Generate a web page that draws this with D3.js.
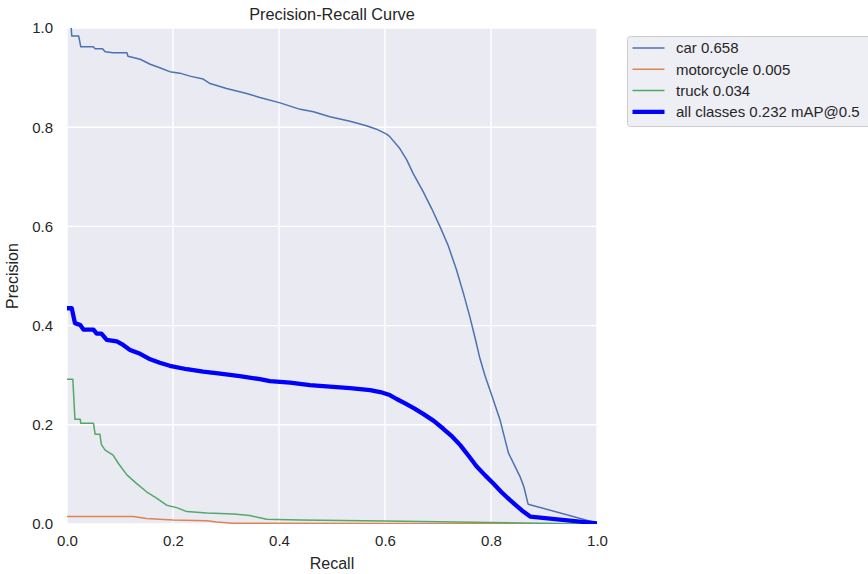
<!DOCTYPE html>
<html>
<head>
<meta charset="utf-8">
<script src="https://cdn.jsdelivr.net/npm/d3@7"></script>
<style>
  body { margin: 0; background: #fff; }
  svg { display: block; font-family: "Liberation Sans", Arial, sans-serif; }
</style>
</head>
<body>
<svg id="graph"></svg>
<script>
// [recall, precision] points
const carCurve = [
  [0.008, 1.0], [0.009, 0.984], [0.022, 0.984], [0.026, 0.962], [0.050, 0.962],
  [0.053, 0.958], [0.067, 0.958], [0.072, 0.952], [0.087, 0.950], [0.113, 0.950],
  [0.115, 0.943], [0.138, 0.937], [0.157, 0.927], [0.175, 0.920], [0.194, 0.912],
  [0.213, 0.909], [0.232, 0.903], [0.257, 0.897], [0.270, 0.888], [0.301, 0.878],
  [0.339, 0.868], [0.364, 0.860], [0.402, 0.849], [0.440, 0.836], [0.465, 0.831],
  [0.496, 0.821], [0.534, 0.812], [0.565, 0.803], [0.584, 0.796], [0.603, 0.786],
  [0.609, 0.781], [0.628, 0.757], [0.641, 0.734], [0.653, 0.707], [0.672, 0.670],
  [0.688, 0.636], [0.704, 0.599], [0.719, 0.562], [0.735, 0.512], [0.748, 0.465],
  [0.760, 0.418], [0.770, 0.375], [0.779, 0.334], [0.789, 0.298], [0.798, 0.270],
  [0.817, 0.210], [0.833, 0.143], [0.855, 0.095], [0.862, 0.075], [0.870, 0.040],
  [0.996, 0.003], [1.0, 0.0]
];
const motorcycleCurve = [
  [0.0, 0.015], [0.125, 0.015], [0.150, 0.011], [0.200, 0.008], [0.264, 0.0066],
  [0.282, 0.004], [0.314, 0.0014], [1.0, 0.0]
];
const truckCurve = [
  [0.0, 0.292], [0.011, 0.292], [0.015, 0.211], [0.025, 0.211], [0.026, 0.203],
  [0.050, 0.203], [0.053, 0.181], [0.062, 0.181], [0.065, 0.160], [0.072, 0.149],
  [0.087, 0.139], [0.097, 0.122], [0.113, 0.099], [0.131, 0.082], [0.150, 0.065],
  [0.169, 0.052], [0.188, 0.038], [0.207, 0.033], [0.226, 0.025], [0.264, 0.022],
  [0.314, 0.020], [0.345, 0.017], [0.377, 0.0095], [0.440, 0.008], [0.600, 0.006],
  [0.800, 0.003], [1.0, 0.0]
];
const allCurve = [
  [0.0, 0.435], [0.009, 0.435], [0.015, 0.405], [0.025, 0.401], [0.031, 0.392],
  [0.050, 0.392], [0.056, 0.384], [0.065, 0.384], [0.075, 0.371], [0.094, 0.368],
  [0.106, 0.361], [0.119, 0.351], [0.138, 0.343], [0.157, 0.332], [0.175, 0.325],
  [0.194, 0.319], [0.226, 0.312], [0.257, 0.307], [0.289, 0.303], [0.326, 0.298],
  [0.364, 0.292], [0.383, 0.288], [0.421, 0.285], [0.458, 0.280], [0.496, 0.277],
  [0.534, 0.274], [0.572, 0.270], [0.591, 0.266], [0.609, 0.260], [0.622, 0.252],
  [0.638, 0.243], [0.655, 0.233], [0.672, 0.222], [0.692, 0.208], [0.710, 0.192],
  [0.727, 0.176], [0.742, 0.159], [0.758, 0.137], [0.773, 0.116], [0.789, 0.098],
  [0.804, 0.082], [0.820, 0.064], [0.836, 0.048], [0.850, 0.035], [0.861, 0.025],
  [0.874, 0.015], [1.0, 0.0014]
];

const seriesNames = ["car 0.658", "motorcycle 0.005", "truck 0.034", "all classes 0.232 mAP@0.5"];
const ticks = [0, 0.2, 0.4, 0.6, 0.8, 1.0];

var svgWidth = 868,
    svgHeight = 574,
    margin = { top: 28, right: 271, bottom: 50, left: 67 },
    width = svgWidth - margin.left - margin.right,
    height = svgHeight - margin.top - margin.bottom;

const series = [
  { name: seriesNames[0], data: carCurve, color: "#4C72B0", lw: 1.5 },
  { name: seriesNames[1], data: motorcycleCurve, color: "#DD8452", lw: 1.5 },
  { name: seriesNames[2], data: truckCurve, color: "#55A868", lw: 1.5 },
  { name: seriesNames[3], data: allCurve, color: "#0000ff", lw: 4.3 }
];

const svg = d3.select("svg#graph")
  .attr("width", svgWidth)
  .attr("height", svgHeight);

const x = d3.scaleLinear().domain([0, 1]).range([0, width]);
const y = d3.scaleLinear().domain([0, 1]).range([height, 0]);

const g = svg.append("g")
  .attr("transform", "translate(" + [margin.left, margin.top] + ")");

g.append("rect")
  .attr("width", width)
  .attr("height", height)
  .attr("fill", "#EAEAF2");

// grid
g.append("g").selectAll("line.gx")
  .data(ticks).enter().append("line")
  .attr("x1", d => x(d)).attr("x2", d => x(d))
  .attr("y1", 0).attr("y2", height)
  .attr("stroke", "#fff").attr("stroke-width", 1.4);
g.append("g").selectAll("line.gy")
  .data(ticks).enter().append("line")
  .attr("x1", 0).attr("x2", width)
  .attr("y1", d => y(d)).attr("y2", d => y(d))
  .attr("stroke", "#fff").attr("stroke-width", 1.4);

// axes (no domain or tick marks, seaborn style)
const xAxis = g.append("g")
  .attr("transform", "translate(0," + height + ")")
  .call(d3.axisBottom(x).tickValues(ticks).tickFormat(d3.format(".1f")).tickSize(0).tickPadding(11));
const yAxis = g.append("g")
  .call(d3.axisLeft(y).tickValues(ticks).tickFormat(d3.format(".1f")).tickSize(0).tickPadding(14));
[xAxis, yAxis].forEach(a => {
  a.select(".domain").remove();
  a.selectAll("text")
    .attr("font-family", "Liberation Sans, Arial, sans-serif")
    .attr("font-size", 15)
    .attr("fill", "#262626");
});

// clip curves to the plot area
svg.append("defs").append("clipPath").attr("id", "plotClip")
  .append("rect").attr("width", width).attr("height", height);

const line = d3.line()
  .x(d => x(d[0]))
  .y(d => y(d[1]));

g.append("g").attr("clip-path", "url(#plotClip)")
  .selectAll("path.curve")
  .data(series).enter().append("path")
  .attr("class", "curve")
  .attr("d", d => line(d.data))
  .attr("fill", "none")
  .attr("stroke", d => d.color)
  .attr("stroke-width", d => d.lw)
  .attr("stroke-linejoin", "round")
  .attr("stroke-linecap", "butt");

// titles
g.append("text")
  .attr("x", width / 2).attr("y", -8)
  .attr("text-anchor", "middle")
  .attr("font-size", 16.3).attr("fill", "#262626")
  .text("Precision-Recall Curve");
g.append("text")
  .attr("x", width / 2).attr("y", height + 45)
  .attr("text-anchor", "middle")
  .attr("font-size", 16).attr("fill", "#262626")
  .text("Recall");
g.append("text")
  .attr("transform", "translate(" + [-49, height / 2] + ") rotate(-90)")
  .attr("text-anchor", "middle")
  .attr("font-size", 16).attr("fill", "#262626")
  .text("Precision");

// legend
const legend = svg.append("g")
  .attr("transform", "translate(" + [627.5, 36.5] + ")");
legend.append("rect")
  .attr("width", 262).attr("height", 90)
  .attr("rx", 3)
  .attr("fill", "#EAEAF2").attr("fill-opacity", 0.8)
  .attr("stroke", "#cccccc").attr("stroke-width", 1);
const items = legend.selectAll("g.item")
  .data(series).enter().append("g")
  .attr("transform", (d, i) => "translate(" + [0, 11.5 + i * 21.3] + ")");
items.append("line")
  .attr("x1", 5).attr("x2", 37)
  .attr("stroke", d => d.color)
  .attr("stroke-width", d => d.lw);
items.append("text")
  .attr("x", 48.5).attr("dy", "0.36em")
  .attr("font-size", 15).attr("fill", "#262626")
  .text(d => d.name);
</script>
</body>
</html>
